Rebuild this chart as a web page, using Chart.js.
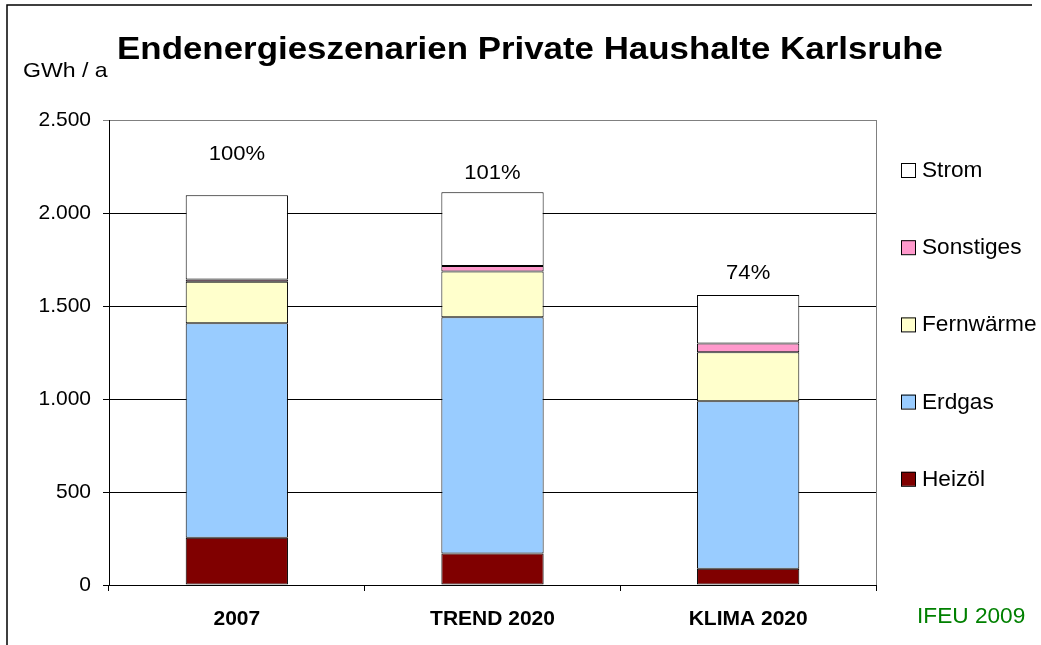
<!DOCTYPE html>
<html>
<head>
<meta charset="utf-8">
<script src="https://cdn.jsdelivr.net/npm/chart.js@4/dist/chart.umd.min.js"></script>
<style>
  html, body { margin: 0; padding: 0; background: #fff; }
  canvas { display: block; }
</style>
</head>
<body>
<canvas id="chart" width="1041" height="645"></canvas>
<script>
const scenarios = ['2007', 'TREND 2020', 'KLIMA 2020'];

// GWh / a per energy source
const heizoel    = [254, 170, 88];
const erdgas     = [1153, 1269, 900];
const fernwaerme = [224, 246, 263];
const sonstiges  = [11, 30, 47];
const strom      = [453, 396, 261];

// share of 2007 total, and where the label sits on the value axis
const pctLabels = ['100%', '101%', '74%'];
const pctAnchor = [2315, 2213, 1676];

const yTicks = [0, 500, 1000, 1500, 2000, 2500];

const FONT = 'Arial, "Liberation Sans", sans-serif';

// text a bit wider than the font gives, like the original renderer
function wideText(ctx, text, x, y, sx, align) {
  ctx.save();
  ctx.translate(x, y);
  ctx.scale(sx, 1);
  ctx.textAlign = align;
  ctx.fillText(text, 0, 0);
  ctx.restore();
}

const extras = {
  id: 'extras',
  beforeDatasetsDraw(chart) {
    const {ctx, chartArea: a} = chart;
    ctx.save();
    ctx.strokeStyle = '#808080';
    ctx.lineWidth = 1;
    ctx.beginPath();
    ctx.moveTo(a.right + 0.5, a.top);
    ctx.lineTo(a.right + 0.5, a.bottom);
    ctx.stroke();
    ctx.restore();
  },
  afterDatasetsDraw(chart) {
    const {ctx} = chart;
    const x = chart.scales.x, y = chart.scales.y;
    ctx.save();
    ctx.fillStyle = '#000';
    ctx.font = '21px ' + FONT;
    ctx.textBaseline = 'middle';
    pctLabels.forEach((t, i) => {
      wideText(ctx, t, x.getPixelForValue(i), y.getPixelForValue(pctAnchor[i]), 1.05, 'center');
    });
    ctx.restore();
  },
  afterDraw(chart) {
    const {ctx} = chart;
    ctx.save();
    // outer frame (left + top)
    ctx.strokeStyle = '#000';
    ctx.lineWidth = 1.5;
    ctx.beginPath();
    ctx.moveTo(7, 650);
    ctx.lineTo(7, 5);
    ctx.lineTo(1032, 5);
    ctx.stroke();

    // title
    ctx.fillStyle = '#000';
    ctx.textBaseline = 'alphabetic';
    ctx.font = 'bold 32px ' + FONT;
    wideText(ctx, 'Endenergieszenarien Private Haushalte Karlsruhe', 530, 59, 1.09, 'center');

    // unit
    ctx.font = '21px ' + FONT;
    wideText(ctx, 'GWh / a', 23, 77, 1.1, 'left');

    // source
    ctx.fillStyle = '#008000';
    ctx.font = '22px ' + FONT;
    wideText(ctx, 'IFEU 2009', 917, 623, 1.03, 'left');

    // legend, top item = last dataset
    const ds = chart.data.datasets.slice().reverse();
    ds.forEach((d, i) => {
      const cy = 170 + i * 77.2;
      ctx.fillStyle = d.backgroundColor;
      ctx.fillRect(901, cy - 7, 14, 14);
      ctx.strokeStyle = '#000';
      ctx.lineWidth = 1;
      ctx.strokeRect(901.5, cy - 6.5, 14, 14);
      ctx.fillStyle = '#000';
      ctx.font = '22px ' + FONT;
      ctx.textBaseline = 'middle';
      wideText(ctx, d.label, 922, cy + 1, 1.03, 'left');
    });
    ctx.restore();
  }
};

const seg = (label, data, color) => ({
  label, data,
  backgroundColor: color,
  borderColor: '#000',
  borderWidth: 1,
  borderSkipped: false,
  categoryPercentage: 0.4,
  barPercentage: 1
});

new Chart(document.getElementById('chart'), {
  type: 'bar',
  data: {
    labels: scenarios,
    datasets: [
      seg('Heizöl', heizoel, '#800000'),
      seg('Erdgas', erdgas, '#99CCFF'),
      seg('Fernwärme', fernwaerme, '#FFFFCC'),
      seg('Sonstiges', sonstiges, '#FF99CC'),
      seg('Strom', strom, '#FFFFFF')
    ]
  },
  options: {
    responsive: false,
    animation: false,
    layout: { padding: { top: 120, right: 165, left: 0, bottom: 0 } },
    plugins: {
      legend: { display: false },
      tooltip: { enabled: false },
      title: { display: false }
    },
    scales: {
      x: {
        stacked: true,
        grid: { drawOnChartArea: false, drawTicks: true, tickLength: 6, color: '#000', offset: true },
        border: { display: true, color: '#000', width: 1 },
        ticks: { color: '#000', padding: 16, font: { family: FONT, size: 21, weight: 'bold' } },
        afterFit(scale) { scale.height = 60; }
      },
      y: {
        stacked: true,
        min: 0,
        max: 2500,
        afterBuildTicks(scale) { scale.ticks = yTicks.map(v => ({value: v})); },
        grid: {
          color: (c) => (c.tick && c.tick.value === 2500) ? '#808080' : '#000',
          tickLength: 6,
          lineWidth: 1
        },
        border: { display: true, color: '#000', width: 1 },
        ticks: {
          color: '#000',
          padding: 12,
          font: { family: FONT, size: 21 },
          callback: (v) => v.toLocaleString('de-DE')
        },
        afterFit(scale) { scale.width = 109; }
      }
    }
  },
  plugins: [extras]
});
</script>
</body>
</html>
